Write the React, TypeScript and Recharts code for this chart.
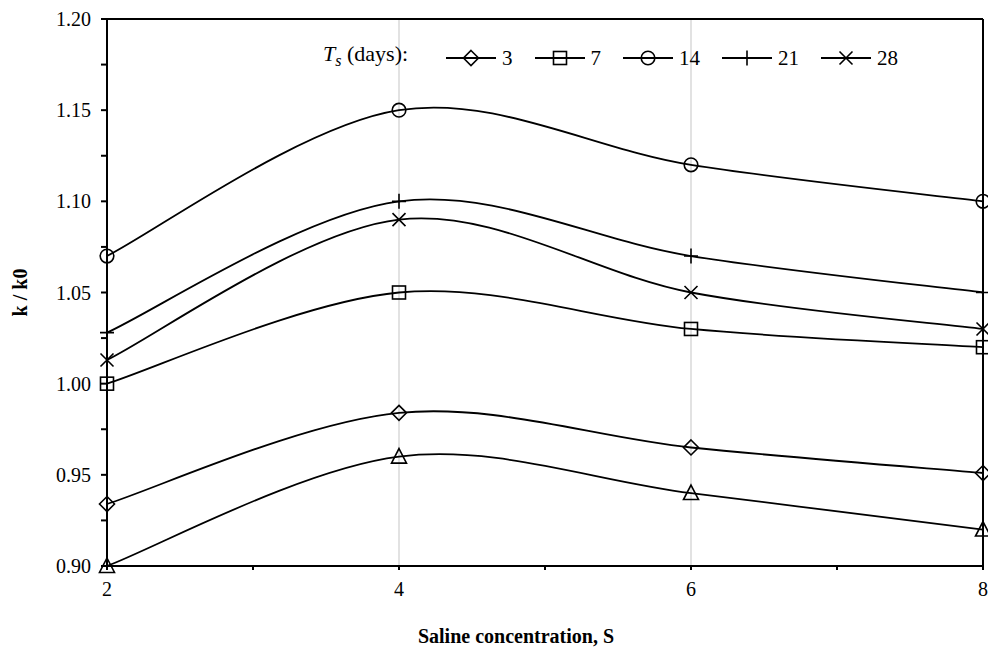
import React from "react";
import { LineChart, Line, XAxis, YAxis, CartesianGrid, ReferenceLine } from "recharts";

// saline concentration S (x) and k/k0 for each curing time Ts
const saline = [2, 4, 6, 8];
const ts3 = [0.934, 0.984, 0.965, 0.951];
const ts7 = [1.0, 1.05, 1.03, 1.02];
const ts14 = [1.07, 1.15, 1.12, 1.1];
const ts21 = [1.028, 1.1, 1.07, 1.05];
const ts28 = [1.013, 1.09, 1.05, 1.03];
const tsRef = [0.9, 0.96, 0.94, 0.92];

const xTicks = [2, 3, 4, 5, 6, 7, 8];
const xGridTicks = [2, 4, 6, 8];
const yTicks = [0.9, 0.925, 0.95, 0.975, 1.0, 1.025, 1.05, 1.075, 1.1, 1.125, 1.15, 1.175, 1.2];
const yGridTicks = [0.9, 0.95, 1.0, 1.05, 1.1, 1.15, 1.2];

const data = saline.map((s, i) => ({
  s,
  ts3: ts3[i],
  ts7: ts7[i],
  ts14: ts14[i],
  ts21: ts21[i],
  ts28: ts28[i],
  tsRef: tsRef[i],
}));

const FONT = '"Liberation Serif", "Times New Roman", serif';

// Excel-like smoothed line (Catmull-Rom as bezier)
function smoothCurve(context: any) {
  let pts: number[][] = [];
  return {
    areaStart() {},
    areaEnd() {},
    lineStart() {
      pts = [];
    },
    lineEnd() {
      if (!pts.length) return;
      context.moveTo(pts[0][0], pts[0][1]);
      for (let i = 0; i < pts.length - 1; i++) {
        const p0 = pts[i - 1] || pts[i];
        const p1 = pts[i];
        const p2 = pts[i + 1];
        const p3 = pts[i + 2] || p2;
        context.bezierCurveTo(
          p1[0] + (p2[0] - p0[0]) / 6,
          p1[1] + (p2[1] - p0[1]) / 6,
          p2[0] - (p3[0] - p1[0]) / 6,
          p2[1] - (p3[1] - p1[1]) / 6,
          p2[0],
          p2[1]
        );
      }
    },
    point(x: number, y: number) {
      pts.push([x, y]);
    },
  };
}

type Kind = "diamond" | "square" | "circle" | "plus" | "cross" | "triangle";

function Marker({ kind, cx, cy }: { kind: Kind; cx: number; cy: number }) {
  const st = { stroke: "#000", strokeWidth: 1.6, fill: "none" };
  if (kind === "diamond")
    return <path d={`M${cx},${cy - 7.5}L${cx + 7.5},${cy}L${cx},${cy + 7.5}L${cx - 7.5},${cy}Z`} {...st} />;
  if (kind === "square") return <rect x={cx - 6.5} y={cy - 6.5} width={13} height={13} {...st} />;
  if (kind === "circle") return <circle cx={cx} cy={cy} r={6.8} {...st} />;
  if (kind === "plus")
    return <path d={`M${cx - 7},${cy}H${cx + 7}M${cx},${cy - 7.5}V${cy + 7.5}`} {...st} />;
  if (kind === "cross")
    return <path d={`M${cx - 6.5},${cy - 6.5}L${cx + 6.5},${cy + 6.5}M${cx + 6.5},${cy - 6.5}L${cx - 6.5},${cy + 6.5}`} {...st} />;
  return <path d={`M${cx},${cy - 8}L${cx + 7.5},${cy + 6.5}L${cx - 7.5},${cy + 6.5}Z`} {...st} />;
}

const dotOf = (kind: Kind) => (p: any) =>
  <Marker key={`${kind}-${p.index}`} kind={kind} cx={p.cx} cy={p.cy} />;

const isMajorY = (v: number) => Math.abs(Math.round(v * 20) - v * 20) < 1e-6;

function YTick({ x, y, payload }: any) {
  if (!isMajorY(payload.value)) return <g />;
  return (
    <text x={x} y={y} dy="0.35em" textAnchor="end" fontFamily={FONT} fontSize={20} fill="#000">
      {payload.value.toFixed(2)}
    </text>
  );
}

function XTick({ x, y, payload }: any) {
  if (payload.value % 2 !== 0) return <g />;
  return (
    <text x={x} y={y} dy="0.71em" textAnchor="middle" fontFamily={FONT} fontSize={20} fill="#000">
      {payload.value}
    </text>
  );
}

const series: { key: string; kind: Kind; label?: string }[] = [
  { key: "ts3", kind: "diamond", label: "3" },
  { key: "ts7", kind: "square", label: "7" },
  { key: "ts14", kind: "circle", label: "14" },
  { key: "ts21", kind: "plus", label: "21" },
  { key: "ts28", kind: "cross", label: "28" },
  { key: "tsRef", kind: "triangle" },
];

function LegendBox() {
  return (
    <div
      style={{
        position: "absolute",
        left: 323,
        top: 41,
        display: "flex",
        alignItems: "center",
        fontFamily: FONT,
        fontSize: 21,
        color: "#000",
        whiteSpace: "nowrap",
        lineHeight: "26px",
      }}
    >
      <span style={{ display: "inline-block", width: 123, fontSize: 22 }}>
        <i>T</i>
        <sub style={{ fontStyle: "italic", fontSize: 16 }}>s</sub> (days):
      </span>
      {series
        .filter((s) => s.label)
        .map((s) => (
          <span key={s.key} style={{ display: "flex", alignItems: "center", marginRight: 22 }}>
            <svg width={50} height={18} style={{ marginRight: 6 }}>
              <line x1={0} y1={9} x2={50} y2={9} stroke="#000" strokeWidth={1.8} />
              <Marker kind={s.kind} cx={25} cy={9} />
            </svg>
            {s.label}
          </span>
        ))}
    </div>
  );
}

export default function App() {
  return (
    <div style={{ position: "absolute", left: 0, top: 0, width: 988, height: 650, background: "#fff" }}>
      <LineChart width={988} height={650} data={data} margin={{ top: 19, right: 5, bottom: 0, left: 0 }}>
        <CartesianGrid xAxisId="grid" yAxisId="grid" stroke="#d9d9d9" strokeWidth={1.5} />
        <XAxis
          dataKey="s"
          type="number"
          domain={[2, 8]}
          ticks={xTicks}
          interval={0}
          height={84}
          tickSize={4}
          tickMargin={12}
          tick={<XTick />}
          axisLine={{ stroke: "#000", strokeWidth: 2 }}
          tickLine={{ stroke: "#000", strokeWidth: 2 }}
          label={{
            content: (p: any) => (
              <text
                x={p.viewBox.x + p.viewBox.width / 2 - 29}
                y={p.viewBox.y + 77}
                textAnchor="middle"
                fontFamily={FONT}
                fontSize={20}
                fontWeight="bold"
                fill="#000"
              >
                Saline concentration, S
              </text>
            ),
          }}
        />
        <XAxis xAxisId="grid" dataKey="s" type="number" domain={[2, 8]} ticks={xGridTicks} hide />
        <YAxis
          type="number"
          domain={[0.9, 1.2]}
          ticks={yTicks}
          interval={0}
          width={107}
          tickSize={6}
          tickMargin={10}
          tick={<YTick />}
          axisLine={{ stroke: "#000", strokeWidth: 2 }}
          tickLine={{ stroke: "#000", strokeWidth: 2 }}
          label={{
            content: (p: any) => {
              const cx = p.viewBox.x + 20;
              const cy = p.viewBox.y + p.viewBox.height / 2;
              return (
                <text
                  x={cx}
                  y={cy}
                  transform={`rotate(-90 ${cx} ${cy})`}
                  textAnchor="middle"
                  dominantBaseline="central"
                  fontFamily={FONT}
                  fontSize={20}
                  fontWeight="bold"
                  fill="#000"
                >
                  k / k0
                </text>
              );
            },
          }}
        />
        <YAxis yAxisId="grid" type="number" domain={[0.9, 1.2]} ticks={yGridTicks} hide />
        <ReferenceLine y={1.2} stroke="#000" strokeWidth={2} />
        <ReferenceLine x={8} stroke="#000" strokeWidth={2} />
        {series.map((s) => (
          <Line
            key={s.key}
            dataKey={s.key}
            type={smoothCurve as any}
            stroke="#000"
            strokeWidth={1.8}
            dot={dotOf(s.kind)}
            activeDot={false}
            isAnimationActive={false}
          />
        ))}
      </LineChart>
      <LegendBox />
    </div>
  );
}
